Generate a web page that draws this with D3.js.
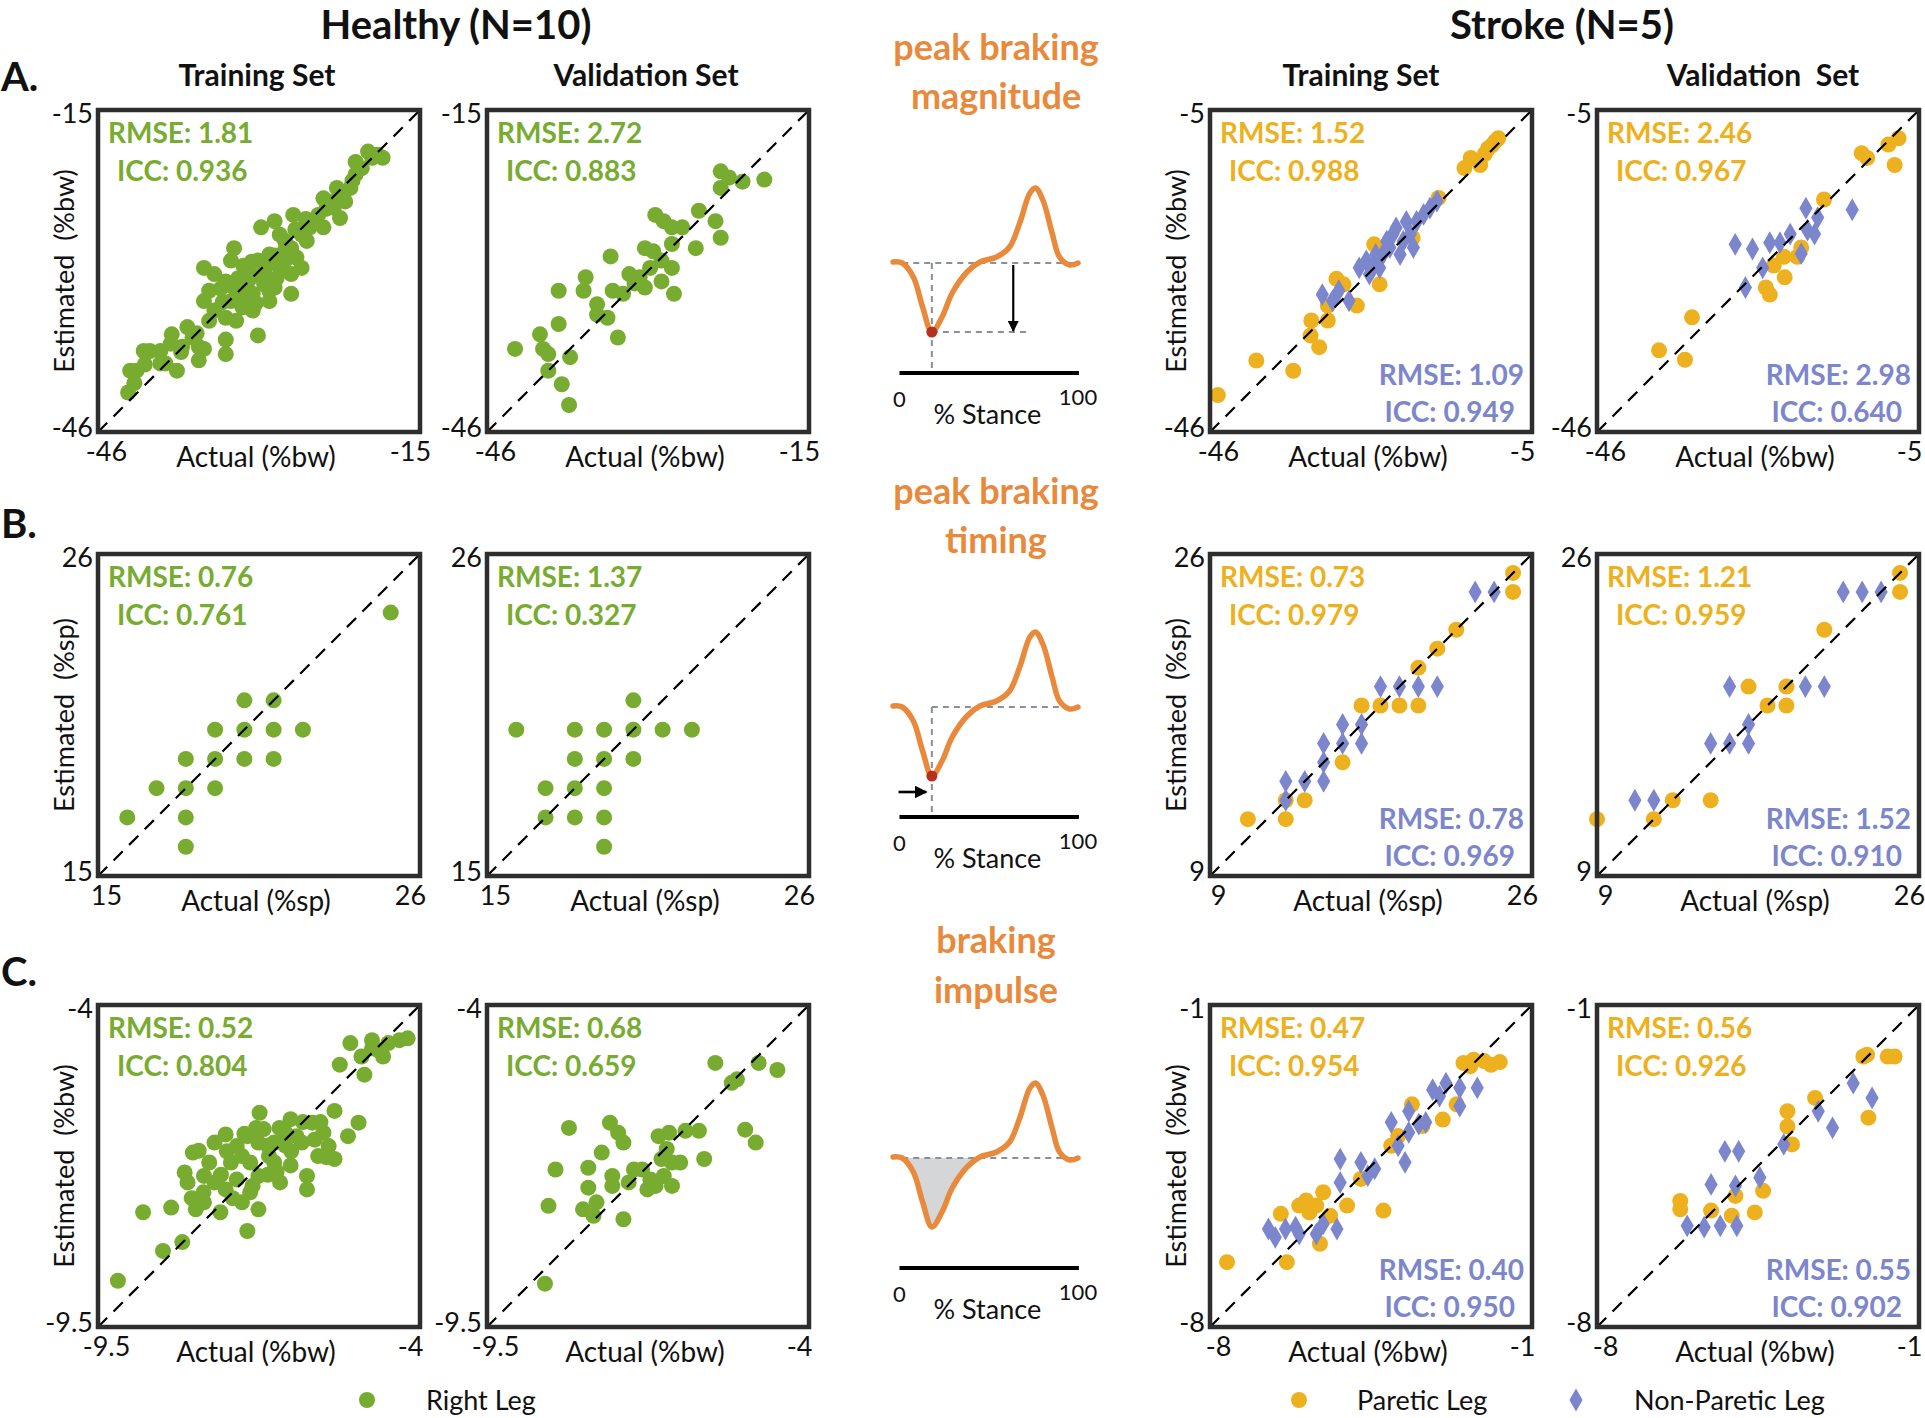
<!DOCTYPE html>
<html><head><meta charset="utf-8">
<script src="https://cdn.jsdelivr.net/npm/d3@7"></script>
<style>body{margin:0;background:#fff} text{font-family:Lato, "Open Sans", sans-serif}</style>
</head><body><svg id="c" width="1925" height="1418"></svg>
<script>
// ---------------- DATA ----------------
const groupTitles = ["Healthy (N=10)", "Stroke (N=5)"];
const setTitles = ["Training Set", "Validation Set", "Training Set", "Validation  Set"];
const rowLetters = ["A.", "B.", "C."];
const metricTitles = [["peak braking", "magnitude"], ["peak braking", "timing"], ["braking", "impulse"]];
const xAxisTitles = ["Actual (%bw)", "Actual (%sp)", "Actual (%bw)"];
const yAxisTitles = ["Estimated  (%bw)", "Estimated  (%sp)", "Estimated  (%bw)"];
const healthyDomains = [[-46, -15], [15, 26], [-9.5, -4]];
const strokeDomains = [[-46, -5], [9, 26], [-8, -1]];
const healthyTickLabels = [["-46", "-15"], ["15", "26"], ["-9.5", "-4"]];
const strokeTickLabels = [["-46", "-5"], ["9", "26"], ["-8", "-1"]];
const legendLabels = ["Right Leg", "Paretic Leg", "Non-Paretic Leg"];

const statsHealthyTrain = [["1.81", "0.936"], ["0.76", "0.761"], ["0.52", "0.804"]];
const statsHealthyVal = [["2.72", "0.883"], ["1.37", "0.327"], ["0.68", "0.659"]];
const statsStrokeTrainParetic = [["1.52", "0.988"], ["0.73", "0.979"], ["0.47", "0.954"]];
const statsStrokeTrainNonParetic = [["1.09", "0.949"], ["0.78", "0.969"], ["0.40", "0.950"]];
const statsStrokeValParetic = [["2.46", "0.967"], ["1.21", "0.959"], ["0.56", "0.926"]];
const statsStrokeValNonParetic = [["2.98", "0.640"], ["1.52", "0.910"], ["0.55", "0.902"]];

// [actual, estimated]
const healthyTrainMagnitude = [
[-43.1,-42.2],[-42.9,-40.1],[-42.3,-40.1],[-41.0,-38.2],[-40.0,-38.2],[-39.5,-39.4],[-38.4,-40.1],[-38.9,-36.6],[-37.9,-37.8],[-37.4,-35.9],
[-36.3,-37.8],[-35.8,-38.0],[-36.9,-36.9],[-35.3,-35.3],[-35.8,-33.4],[-35.3,-32.4],[-34.8,-34.3],[-33.7,-37.1],[-33.7,-35.0],[-33.2,-33.4],
[-32.7,-35.3],[-32.9,-28.3],[-32.1,-32.7],[-31.6,-31.5],[-31.1,-32.7],[-30.6,-36.7],[-31.6,-30.2],[-30.6,-29.5],[-30.1,-30.8],[-29.5,-28.9],
[-29.5,-32.4],[-29.0,-32.1],[-28.5,-30.2],[-28.0,-29.5],[-27.4,-32.7],[-27.4,-30.8],[-28.5,-27.0],[-28.0,-27.6],[-27.4,-28.3],[-27.2,-25.1],
[-26.4,-27.0],[-25.9,-27.6],[-25.6,-26.3],[-30.3,-26.3],[-29.0,-25.7],[-24.8,-25.1],[-24.3,-23.5],[-23.8,-23.8],[-23.3,-24.4],[-22.7,-25.4],
[-22.7,-23.1],[-21.7,-22.5],[-21.2,-21.2],[-21.2,-20.0],[-20.6,-20.6],[-19.6,-19.6],[-19.1,-19.3],[-18.6,-19.6],[-22.2,-23.8],[-25.3,-25.7],
[-34.8,-30.8],[-35.8,-30.2],[-33.7,-31.5],[-31.1,-34.3],[-32.1,-34.0],[-29.5,-33.4],[-33.7,-38.5],[-36.3,-39.1],[-40.0,-39.4],[-41.6,-38.2],
[-33.2,-29.5],[-26.9,-29.2],[-26.4,-30.2],[-24.3,-26.3],[-31,-31],[-30,-30.5],[-32,-30],[-30,-31.8],[-29,-29],[-33,-32],
[-34,-33.5],[-31.5,-33],[-28,-28.5],[-27,-26.5],[-26,-25.5],[-20,-19],[-21.5,-21.8],[-23,-22.5],[-24,-24.5],[-36.5,-36.5],
[-38,-38.3],[-39,-37.5],[-41.5,-39.5],[-42.5,-41.3],[-32.5,-31.2],[-31.2,-29.6],[-29.8,-29.8],[-28.8,-31.2],[-34.2,-32.2],[-30.8,-33.6]
];
const healthyValMagnitude = [
[-43.3,-38.0],[-40.9,-36.6],[-40.6,-38.0],[-40.1,-38.5],[-39.1,-35.6],[-40.1,-40.1],[-38.8,-41.4],[-38.0,-38.8],[-38.1,-43.4],[-39.1,-32.4],
[-36.7,-32.4],[-36.5,-31.1],[-35.4,-33.7],[-35.4,-34.7],[-34.4,-35.0],[-34.1,-29.1],[-33.9,-32.4],[-33.4,-36.9],[-32.9,-32.7],[-32.3,-30.8],
[-31.8,-31.7],[-30.8,-28.3],[-30.8,-32.1],[-30.3,-30.2],[-29.8,-25.1],[-29.2,-29.5],[-29.2,-31.5],[-29.0,-25.7],[-28.2,-26.3],[-28.2,-30.2],
[-28.2,-27.9],[-28.0,-32.7],[-27.2,-26.3],[-25.9,-28.3],[-25.6,-24.7],[-24.0,-25.7],[-23.5,-22.5],[-23.5,-27.3],[-23.5,-20.9],[-22.7,-21.5],
[-21.4,-21.9],[-19.3,-21.7],[-31.3,-31.1],[-30.0,-28.6]
];
const healthyTrainTiming = [
[25,24],[20,21],[21,21],[19,20],[20,20],[21,20],[22,20],[18,19],[19,19],[20,19],[21,19],[17,18],[18,18],[19,18],[16,17],[18,17],[18,16]
];
const healthyValTiming = [
[20,21],[16,20],[18,20],[19,20],[20,20],[21,20],[22,20],[18,19],[19,19],[20,19],[17,18],[18,18],[19,18],[17,17],[18,17],[19,17],[19,16]
];
const healthyTrainImpulse = [
[-9.16,-8.71],[-8.39,-8.20],[-8.06,-8.05],[-8.73,-7.54],[-8.25,-7.46],[-6.95,-7.86],[-8.02,-6.86],[-7.97,-7.03],[-7.78,-6.49],[-7.83,-7.49],
[-7.69,-7.37],[-7.51,-6.35],[-7.60,-6.69],[-7.32,-6.21],[-7.23,-6.69],[-7.32,-7.15],[-7.41,-7.54],[-7.13,-6.41],[-7.13,-6.98],[-7.04,-7.37],
[-6.95,-6.24],[-6.90,-6.69],[-6.76,-6.35],[-6.76,-6.92],[-6.76,-7.49],[-6.74,-5.84],[-6.67,-6.12],[-6.58,-6.58],[-6.49,-6.69],[-6.39,-7.03],
[-6.21,-5.95],[-6.21,-6.74],[-6.11,-6.24],[-6.02,-6.35],[-5.93,-6.92],[-5.93,-7.15],[-5.84,-6.01],[-5.74,-6.58],[-5.65,-6.18],[-5.56,-6.41],
[-5.46,-5.81],[-5.46,-6.63],[-5.23,-6.24],[-5.05,-6.01],[-5.37,-5.02],[-5.19,-4.65],[-4.95,-5.19],[-5.00,-4.88],[-4.82,-4.60],[-4.72,-4.77],
[-4.63,-4.88],[-4.54,-4.65],[-4.35,-4.60],[-4.21,-4.57],[-4.82,-4.74],[-7.88,-6.52],[-7.51,-7.03],[-7.04,-6.58],[-6.49,-6.35],[-7.69,-6.92],
[-6.30,-6.18],[-6.86,-7.09],[-7.30,-6.50],[-7.00,-6.20],[-6.80,-6.10],[-6.60,-6.40],[-6.40,-6.10],[-6.20,-6.50],[-6.00,-6.00],[-5.80,-6.30],
[-5.70,-6.00],[-7.40,-6.90],[-7.20,-7.30],[-6.90,-7.20],[-6.60,-6.90],[-6.30,-6.40],[-5.60,-6.60],[-7.70,-7.20],[-7.90,-7.30],[-6.45,-6.85]
];
const healthyValImpulse = [
[-8.51,-8.76],[-8.45,-7.43],[-8.10,-6.10],[-8.33,-6.81],[-7.86,-7.49],[-7.77,-7.12],[-7.77,-6.78],[-7.63,-7.37],[-7.68,-7.60],[-7.54,-6.52],
[-7.40,-6.01],[-7.36,-6.92],[-7.26,-6.18],[-7.17,-7.66],[-7.17,-6.35],[-7.08,-7.03],[-6.99,-6.81],[-6.85,-6.81],[-6.76,-7.15],[-6.71,-6.98],
[-6.62,-7.09],[-6.57,-6.24],[-6.52,-6.63],[-6.48,-6.92],[-6.39,-6.18],[-6.34,-6.69],[-6.34,-7.09],[-6.20,-6.69],[-6.11,-6.15],[-5.88,-6.15],
[-5.79,-6.63],[-5.60,-4.99],[-5.32,-5.33],[-5.23,-5.27],[-5.09,-6.13],[-4.91,-6.35],[-4.86,-4.99],[-4.54,-5.11],[-7.36,-7.09],[-6.43,-6.46]
];
const strokeTrainMagnitudeParetic = [
[-45.0,-41.3],[-40.1,-36.9],[-35.4,-38.2],[-33.2,-33.7],[-32.1,-35.2],[-33.1,-31.8],[-31.0,-31.8],[-31.0,-29.9],[-29.0,-27.2],[-27.3,-29.9],
[-25.1,-22.1],[-24.4,-27.2],[-29.9,-26.5],[-20.2,-21.3],[-16.9,-16.2],[-13.6,-12.4],[-12.8,-11.1],[-11.6,-12.0],[-10.6,-9.9],[-9.7,-9.0],
[-9.3,-8.6],[-11.0,-10.6],[-10.1,-9.5]
];
const strokeTrainMagnitudeNonParetic = [
[-31.7,-28.5],[-30.4,-29.3],[-29.6,-28.0],[-28.3,-29.3],[-27.0,-25.1],[-26.1,-24.2],[-25.7,-25.9],[-24.9,-23.4],[-24.4,-25.1],[-24.0,-23.4],
[-23.1,-22.5],[-22.7,-20.8],[-22.3,-20.0],[-21.8,-23.4],[-21.4,-21.7],[-21.0,-19.2],[-20.5,-20.8],[-20.1,-22.5],[-19.7,-19.2],[-18.8,-18.3],
[-18.0,-17.5],[-17.1,-16.6],[-25.3,-25.1],[-23.5,-21.7]
];
const strokeValMagnitudeParetic = [
[-38.1,-35.6],[-34.8,-36.8],[-33.9,-31.4],[-24.5,-27.6],[-24.0,-28.5],[-22.1,-26.3],[-23.5,-24.8],[-22.2,-23.7],[-20.5,-23.7],[-20.0,-22.5],
[-17.1,-16.4],[-12.3,-10.5],[-11.6,-11.1],[-8.1,-12.0],[-7.6,-8.6],[-8.9,-9.4]
];
const strokeValMagnitudeNonParetic = [
[-28.4,-22.1],[-27.1,-27.6],[-26.2,-22.7],[-24.9,-25.1],[-24.0,-21.9],[-22.7,-21.9],[-21.4,-20.8],[-20.0,-23.3],[-19.4,-17.5],[-19.2,-20.3],
[-18.3,-20.8],[-17.9,-18.7],[-13.5,-17.7]
];
const strokeTrainTimingParetic = [
[11,12],[13,12],[13,13],[14,13],[16,15],[17,18],[18,18],[19,18],[20,18],[20,20],[21,21],[22,22],[25,24],[25,25]
];
const strokeTrainTimingNonParetic = [
[13,14],[13,13],[14,14],[15,14],[15,15],[15,16],[16,16],[17,16],[16,17],[17,17],[18,19],[19,19],[20,19],[21,19],[23,24],[24,24]
];
const strokeValTimingParetic = [
[9,12],[12,12],[13,13],[15,13],[17,19],[18,18],[19,18],[19,19],[21,22],[25,24],[25,25]
];
const strokeValTimingNonParetic = [
[11,13],[12,13],[15,16],[16,16],[17,16],[17,17],[16,19],[20,19],[21,19],[22,24],[23,24],[24,24]
];
const strokeTrainImpulseParetic = [
[-7.63,-6.59],[-6.33,-6.59],[-6.46,-5.54],[-6.06,-5.36],[-5.91,-5.25],[-5.84,-5.51],[-5.54,-5.07],[-5.69,-5.36],[-5.39,-5.58],[-5.02,-5.36],
[-4.23,-5.47],[-4.72,-4.78],[-5.61,-6.19],[-4.06,-4.06],[-3.91,-3.85],[-3.61,-3.16],[-3.38,-3.63],[-2.94,-3.49],[-2.64,-3.16],[-2.49,-2.26],
[-2.27,-2.19],[-2.04,-2.22],[-1.70,-2.24],[-1.89,-2.30],[-2.34,-2.33]
];
const strokeTrainImpulseNonParetic = [
[-6.73,-5.87],[-6.58,-6.05],[-6.36,-5.87],[-6.06,-5.98],[-5.69,-5.98],[-5.54,-5.76],[-5.24,-5.87],[-5.17,-4.35],[-5.17,-4.86],[-4.72,-4.42],
[-4.57,-4.71],[-4.42,-4.56],[-4.06,-3.55],[-3.91,-4.06],[-3.76,-4.42],[-3.68,-3.77],[-3.46,-3.59],[-3.31,-3.55],[-3.16,-2.84],[-3.01,-2.98],
[-2.87,-2.70],[-2.57,-2.80],[-2.57,-3.20],[-2.19,-2.80],[-3.68,-3.31],[-6.14,-5.83]
];
const strokeValImpulseParetic = [
[-6.19,-5.44],[-6.19,-5.26],[-5.52,-5.47],[-5.07,-5.58],[-4.99,-5.15],[-4.57,-5.51],[-4.39,-5.04],[-3.86,-3.31],[-3.86,-3.64],[-3.76,-4.03],
[-3.26,-3.02],[-2.21,-2.12],[-2.10,-3.45],[-1.68,-2.12],[-1.53,-2.12],[-2.13,-2.08]
];
const strokeValImpulseNonParetic = [
[-6.04,-5.80],[-5.67,-5.83],[-5.32,-5.80],[-4.96,-5.80],[-5.52,-4.90],[-5.22,-4.18],[-4.92,-4.18],[-4.99,-4.93],[-4.46,-4.75],[-3.94,-4.03],
[-3.19,-3.31],[-2.88,-3.67],[-2.43,-2.70],[-2.02,-3.02]
];

// schematic braking force curve (% stance, force in arbitrary units)
const stancePct = [0, 5, 11, 16, 21, 26.5, 32, 40, 47, 56, 63, 68.5, 74, 77, 81, 86, 90, 95.5, 100];
const brakingForce = [1, 0, -14, -44, -69, -54, -30, -9, 1, 6, 16, 40, 70, 75, 63, 30, 6, -2, 0];
const stanceTicks = ["0", "100"];
const stanceLabel = "% Stance";

// ---------------- STYLE / LAYOUT ----------------
const GREEN = "#77AC30", GOLD = "#EDB120", BLUE = "#7B86CC", ORANGE = "#E8893B";
const COLS = [98, 487, 1210, 1597];
const ROWS = [110, 554, 1005];
const SIZE = 322;

const svg = d3.select("#c");
svg.append("rect").attr("width", 1925).attr("height", 1418).attr("fill", "#fff");
const defs = svg.append("defs");
defs.append("marker").attr("id", "arr").attr("viewBox", "0 0 10 10").attr("refX", 9).attr("refY", 5)
  .attr("markerWidth", 5).attr("markerHeight", 5).attr("orient", "auto-start-reverse")
  .append("path").attr("d", "M0,0 L10,5 L0,10 Z").attr("fill", "#000");

const diamond = d3.symbol(d3.symbolDiamond, 150);

function drawPanel(col, row, domain, tickLabels, series, topStat, topColor, botStat) {
  const x0 = COLS[col], y0 = ROWS[row];
  const xs = d3.scaleLinear(domain, [x0, x0 + SIZE]);
  const ys = d3.scaleLinear(domain, [y0 + SIZE, y0]);
  const g = svg.append("g");
  series.forEach(s => {
    if (s.shape === "circle") {
      g.selectAll(null).data(s.data).join("circle")
        .attr("cx", d => xs(d[0])).attr("cy", d => ys(d[1])).attr("r", 8).attr("fill", s.color);
    } else {
      g.selectAll(null).data(s.data).join("path")
        .attr("d", diamond).attr("transform", d => `translate(${xs(d[0])},${ys(d[1])})`).attr("fill", s.color);
    }
  });
  g.append("line").attr("x1", xs(domain[0])).attr("y1", ys(domain[0])).attr("x2", xs(domain[1])).attr("y2", ys(domain[1]))
    .attr("stroke", "#000").attr("stroke-width", 2.2).attr("stroke-dasharray", "13,9");
  g.append("rect").attr("x", x0).attr("y", y0).attr("width", SIZE).attr("height", SIZE)
    .attr("fill", "none").attr("stroke", "#2e2e2e").attr("stroke-width", 4.5);

  const xa = g.append("g").attr("transform", `translate(0,${y0 + SIZE})`)
    .call(d3.axisBottom(xs).tickValues(domain).tickSize(0).tickPadding(10).tickFormat((d, i) => tickLabels[i]));
  xa.select(".domain").remove();
  xa.selectAll("text").attr("font-family", "Lato").attr("font-size", 27).attr("fill", "#111")
    .attr("dx", (d, i) => i === 0 ? 8 : -10);
  const ya = g.append("g").attr("transform", `translate(${x0},0)`)
    .call(d3.axisLeft(ys).tickValues(domain).tickSize(0).tickPadding(5).tickFormat((d, i) => tickLabels[i]));
  ya.select(".domain").remove();
  ya.selectAll("text").attr("font-family", "Lato").attr("font-size", 27).attr("fill", "#111")
    .attr("dy", (d, i) => i === 0 ? "0.15em" : "0.45em");

  g.append("text").attr("x", x0 + SIZE / 2 - 3).attr("y", y0 + SIZE + 35).attr("text-anchor", "middle")
    .attr("font-size", 28).attr("fill", "#111").text(xAxisTitles[row]);

  g.append("text").attr("x", x0 + 10).attr("y", y0 + 33).attr("font-size", 28).attr("font-weight", 700)
    .attr("fill", topColor).text("RMSE: " + topStat[0]);
  g.append("text").attr("x", x0 + 19).attr("y", y0 + 71).attr("font-size", 28).attr("font-weight", 700)
    .attr("fill", topColor).text("ICC: " + topStat[1]);
  if (botStat) {
    g.append("text").attr("x", x0 + SIZE - 8).attr("y", y0 + SIZE - 47).attr("text-anchor", "end").attr("font-size", 28)
      .attr("font-weight", 700).attr("fill", BLUE).text("RMSE: " + botStat[0]);
    g.append("text").attr("x", x0 + SIZE - 17).attr("y", y0 + SIZE - 10).attr("text-anchor", "end").attr("font-size", 28)
      .attr("font-weight", 700).attr("fill", BLUE).text("ICC: " + botStat[1]);
  }
  if (col === 0 || col === 2) {
    g.append("text").attr("transform", `translate(${x0 - 24},${y0 + SIZE / 2}) rotate(-90)`)
      .attr("text-anchor", "middle").attr("font-family", "DejaVu Sans").attr("font-size", 27).attr("fill", "#111")
      .style("white-space", "pre").text(yAxisTitles[row]);
  }
}

const hTrain = [healthyTrainMagnitude, healthyTrainTiming, healthyTrainImpulse];
const hVal = [healthyValMagnitude, healthyValTiming, healthyValImpulse];
const sTrainP = [strokeTrainMagnitudeParetic, strokeTrainTimingParetic, strokeTrainImpulseParetic];
const sTrainN = [strokeTrainMagnitudeNonParetic, strokeTrainTimingNonParetic, strokeTrainImpulseNonParetic];
const sValP = [strokeValMagnitudeParetic, strokeValTimingParetic, strokeValImpulseParetic];
const sValN = [strokeValMagnitudeNonParetic, strokeValTimingNonParetic, strokeValImpulseNonParetic];

for (let r = 0; r < 3; r++) {
  drawPanel(0, r, healthyDomains[r], healthyTickLabels[r], [{data: hTrain[r], shape: "circle", color: GREEN}], statsHealthyTrain[r], GREEN, null);
  drawPanel(1, r, healthyDomains[r], healthyTickLabels[r], [{data: hVal[r], shape: "circle", color: GREEN}], statsHealthyVal[r], GREEN, null);
  drawPanel(2, r, strokeDomains[r], strokeTickLabels[r], [{data: sTrainP[r], shape: "circle", color: GOLD}, {data: sTrainN[r], shape: "diamond", color: BLUE}], statsStrokeTrainParetic[r], GOLD, statsStrokeTrainNonParetic[r]);
  drawPanel(3, r, strokeDomains[r], strokeTickLabels[r], [{data: sValP[r], shape: "circle", color: GOLD}, {data: sValN[r], shape: "diamond", color: BLUE}], statsStrokeValParetic[r], GOLD, statsStrokeValNonParetic[r]);
}

// titles
svg.append("text").attr("x", 456).attr("y", 39).attr("text-anchor", "middle").attr("font-size", 40).attr("font-weight", 700).attr("fill", "#111").text(groupTitles[0]);
svg.append("text").attr("x", 1562).attr("y", 39).attr("text-anchor", "middle").attr("font-size", 40).attr("font-weight", 700).attr("fill", "#111").text(groupTitles[1]);
const setCenters = [257, 646, 1361, 1763];
setTitles.forEach((t, i) => svg.append("text").attr("x", setCenters[i]).attr("y", 86).attr("text-anchor", "middle")
  .attr("font-size", 30).attr("font-weight", 700).attr("fill", "#111").style("white-space", "pre").text(t));
const letterY = [91, 538, 986];
rowLetters.forEach((t, i) => svg.append("text").attr("x", 1).attr("y", letterY[i]).attr("font-size", 40).attr("font-weight", 700).attr("fill", "#111").text(t));
const metricY = [[60, 109], [504, 553], [953, 1003]];
metricTitles.forEach((pair, i) => pair.forEach((t, j) => svg.append("text").attr("x", 996).attr("y", metricY[i][j])
  .attr("text-anchor", "middle").attr("font-size", 36).attr("font-weight", 700).attr("fill", ORANGE).text(t)));

// schematic icons
const curvePts = stancePct.map((p, i) => [p, brakingForce[i]]);
for (let r = 0; r < 3; r++) {
  const base = ROWS[r] + 153;
  const ix = d3.scaleLinear([0, 100], [893, 1078]);
  const iy = d3.scaleLinear([0, 75], [base, base - 75]);
  const g = svg.append("g");
  const dash = (p1, f1, p2, f2) => g.append("line").attr("x1", ix(p1)).attr("y1", iy(f1)).attr("x2", ix(p2)).attr("y2", iy(f2))
    .attr("stroke", "#8a8f99").attr("stroke-width", 2).attr("stroke-dasharray", "6,5");
  if (r === 2) {
    const sub = curvePts.filter(d => d[0] >= 5 && d[0] <= 47);
    g.append("path").datum(sub).attr("fill", "#d4d6d8")
      .attr("d", d3.area().x(d => ix(d[0])).y0(iy(0)).y1(d => iy(Math.min(0, d[1]))).curve(d3.curveCatmullRom.alpha(0.5)));
  }
  if (r === 0) { dash(5, 0, 100, 0); dash(21, 0, 21, -110); dash(21, -69, 73, -69); }
  if (r === 1) { dash(21, 0, 100, 0); dash(21, 0, 21, -110); }
  if (r === 2) { dash(5, 0, 100, 0); }
  g.append("path").datum(curvePts).attr("fill", "none").attr("stroke", ORANGE).attr("stroke-width", 5.5)
    .attr("stroke-linecap", "round").attr("stroke-linejoin", "round")
    .attr("d", d3.line().x(d => ix(d[0])).y(d => iy(d[1])).curve(d3.curveCatmullRom.alpha(0.5)));
  if (r < 2) g.append("circle").attr("cx", ix(21)).attr("cy", iy(-69)).attr("r", 5.5).attr("fill", "#B5301F");
  if (r === 0) g.append("line").attr("x1", ix(65)).attr("y1", iy(-2)).attr("x2", ix(65)).attr("y2", iy(-68))
    .attr("stroke", "#000").attr("stroke-width", 2.2).attr("marker-end", "url(#arr)");
  if (r === 1) g.append("line").attr("x1", ix(3)).attr("y1", iy(-85)).attr("x2", ix(18)).attr("y2", iy(-85))
    .attr("stroke", "#000").attr("stroke-width", 2.6).attr("marker-end", "url(#arr)");
  g.append("line").attr("x1", ix(3.5)).attr("y1", iy(-110)).attr("x2", ix(100.5)).attr("y2", iy(-110))
    .attr("stroke", "#000").attr("stroke-width", 4);
  g.append("text").attr("x", ix(3.5)).attr("y", base + 144).attr("text-anchor", "middle").attr("font-size", 22).attr("fill", "#111").text(stanceTicks[0]);
  g.append("text").attr("x", ix(100)).attr("y", base + 142).attr("text-anchor", "middle").attr("font-size", 22).attr("fill", "#111").text(stanceTicks[1]);
  g.append("text").attr("x", ix(51)).attr("y", base + 161).attr("text-anchor", "middle").attr("font-size", 27).attr("fill", "#111").text(stanceLabel);
}

// legend
const lg = svg.append("g");
lg.append("circle").attr("cx", 367).attr("cy", 1400).attr("r", 8).attr("fill", GREEN);
lg.append("text").attr("x", 426).attr("y", 1410).attr("font-size", 27).attr("fill", "#111").text(legendLabels[0]);
lg.append("circle").attr("cx", 1299).attr("cy", 1400).attr("r", 8).attr("fill", GOLD);
lg.append("text").attr("x", 1357).attr("y", 1410).attr("font-size", 27).attr("fill", "#111").text(legendLabels[1]);
lg.append("path").attr("d", diamond).attr("transform", "translate(1576,1400)").attr("fill", BLUE);
lg.append("text").attr("x", 1634).attr("y", 1410).attr("font-size", 27).attr("fill", "#111").text(legendLabels[2]);
</script></body></html>
